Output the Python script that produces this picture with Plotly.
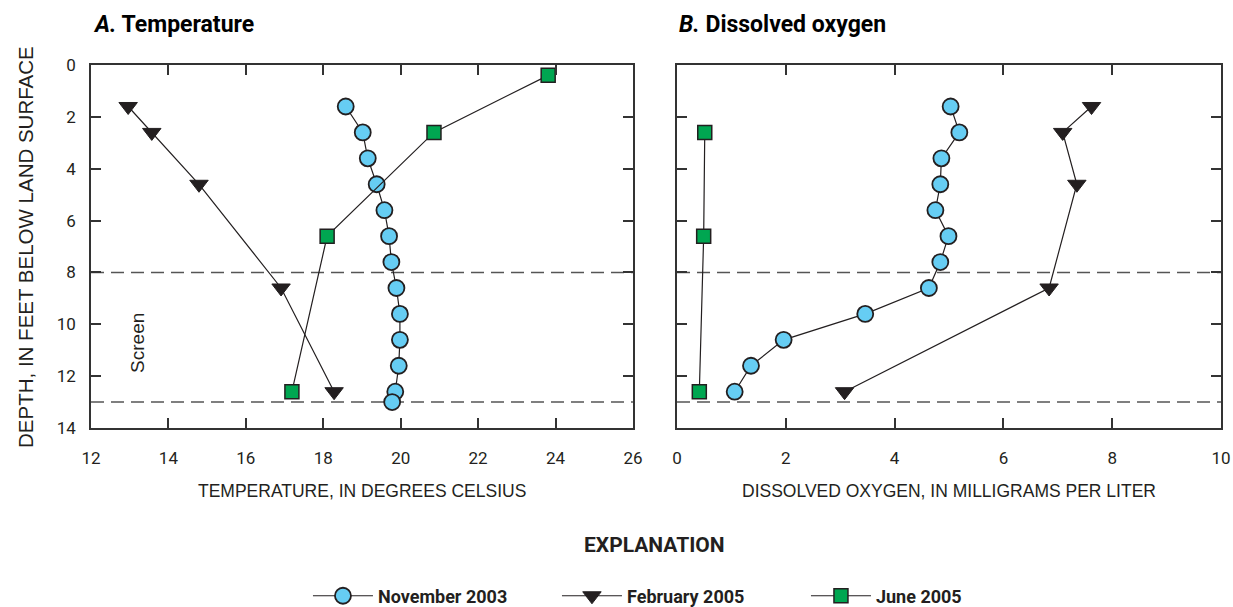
import plotly.graph_objects as go

# Depth profiles (feet below land surface)
nov2003_depth = [1.6, 2.6, 3.6, 4.6, 5.6, 6.6, 7.6, 8.6, 9.6, 10.6, 11.6, 12.6, 13.0]
nov2003_temp = [18.58, 19.02, 19.15, 19.38, 19.58, 19.70, 19.76, 19.89, 19.98, 19.98, 19.95, 19.86, 19.78]
nov2003_do_depth = [1.6, 2.6, 3.6, 4.6, 5.6, 6.6, 7.6, 8.6, 9.6, 10.6, 11.6, 12.6]
nov2003_do = [5.03, 5.19, 4.86, 4.84, 4.75, 4.99, 4.84, 4.63, 3.46, 1.96, 1.36, 1.06]

feb2005_depth = [1.6, 2.6, 4.6, 8.6, 12.6]
feb2005_temp = [12.96, 13.57, 14.79, 16.91, 18.28]
feb2005_do = [7.62, 7.09, 7.35, 6.84, 3.08]

jun2005_temp_depth = [0.4, 2.6, 6.6, 12.6]
jun2005_temp = [23.81, 20.86, 18.10, 17.19]
jun2005_do_depth = [2.6, 6.6, 12.6]
jun2005_do = [0.51, 0.49, 0.41]

screen_interval = [8, 13]

temp_ticks = [12, 14, 16, 18, 20, 22, 24, 26]
do_ticks = [0, 2, 4, 6, 8, 10]
depth_ticks = [0, 2, 4, 6, 8, 10, 12, 14]

DARK = "#231F20"
BLUE = "#66CDF3"
GREEN = "#00A651"
NARROW = "Liberation Sans Narrow, Roboto, Arial, sans-serif"
WIDE = "Liberation Sans, Arial, sans-serif"
TICK_FONT = dict(family=NARROW, size=17, color=DARK)
LABEL_FONT = dict(family=WIDE, size=17.5, color=DARK)

series = [
    dict(name="November 2003", symbol="circle", size=16, fill=BLUE, lw=1.8,
         left=(nov2003_temp, nov2003_depth), right=(nov2003_do, nov2003_do_depth)),
    dict(name="February 2005", symbol="triangle-down", size=16, fill=DARK, lw=1,
         left=(feb2005_temp, feb2005_depth), right=(feb2005_do, feb2005_depth)),
    dict(name="June 2005", symbol="square", size=14, fill=GREEN, lw=1.5,
         left=(jun2005_temp, jun2005_temp_depth), right=(jun2005_do, jun2005_do_depth)),
]

fig = go.Figure()
for s in series:
    marker = dict(symbol=s["symbol"], size=s["size"], color=s["fill"],
                  line=dict(color=DARK, width=s["lw"]))
    line = dict(color=DARK, width=1.2)
    fig.add_trace(go.Scatter(x=s["left"][0], y=s["left"][1], mode="lines+markers",
                             name=s["name"], marker=marker, line=line,
                             xaxis="x", yaxis="y", showlegend=True, cliponaxis=False))
    fig.add_trace(go.Scatter(x=s["right"][0], y=s["right"][1], mode="lines+markers",
                             name=s["name"], marker=marker, line=line,
                             xaxis="x2", yaxis="y2", showlegend=False, cliponaxis=False))

# Screened interval boundaries
for xr, yr in (("x domain", "y"), ("x2 domain", "y2")):
    for d in screen_interval:
        fig.add_shape(type="line", xref=xr, yref=yr, x0=0, x1=1, y0=d, y1=d,
                      line=dict(color="#555555", width=1.4, dash="13px,7px"), layer="below")

axis_common = dict(showline=True, linecolor="#333333", linewidth=1.5, mirror="ticks",
                   ticks="inside", ticklen=10, tickwidth=1.5, tickcolor="#333333",
                   showgrid=False, zeroline=False, tickfont=TICK_FONT, automargin=False)

fig.update_layout(
    width=1233, height=607,
    margin=dict(l=91, r=12, t=65, b=179, autoexpand=False),
    plot_bgcolor="white", paper_bgcolor="white",
    xaxis=dict(domain=[0, 0.4796], range=[12, 26], tickvals=temp_ticks,
               ticklabelstandoff=14, **axis_common),
    xaxis2=dict(domain=[0.5186, 1], range=[0, 10], tickvals=do_ticks,
                ticklabelstandoff=14, **axis_common),
    yaxis=dict(range=[14, 0], tickvals=depth_ticks, ticklabelstandoff=10, **axis_common),
    yaxis2=dict(range=[14, 0], tickvals=depth_ticks, anchor="x2", showticklabels=False,
                **axis_common),
    showlegend=True,
    legend=dict(orientation="h", x=0.192, xanchor="left", y=-0.463, yanchor="middle",
                font=dict(family=NARROW, size=18, color=DARK, weight="bold"),
                itemwidth=60, entrywidth=174, traceorder="normal"),
)

title_font = dict(family=NARROW, size=23, color="black", weight="bold")
fig.add_annotation(text="<b><i>A.</i> Temperature</b>", xref="paper", yref="paper",
                   x=0.0, y=1.112, xanchor="left", yanchor="middle", showarrow=False,
                   font=title_font)
fig.add_annotation(text="<b><i>B.</i> Dissolved oxygen</b>", xref="paper", yref="paper",
                   x=0.5186, y=1.112, xanchor="left", yanchor="middle", showarrow=False,
                   font=title_font)
fig.add_annotation(text="DEPTH, IN FEET BELOW LAND SURFACE", xref="paper", yref="paper",
                   x=-0.058, y=0.5, xanchor="center", yanchor="middle", textangle=-90,
                   showarrow=False, font=dict(family=WIDE, size=20.5, color=DARK))
fig.add_annotation(text="TEMPERATURE, IN DEGREES CELSIUS", xref="x domain", yref="paper",
                   x=0.5, y=-0.1736, xanchor="center", yanchor="middle", showarrow=False,
                   font=LABEL_FONT)
fig.add_annotation(text="DISSOLVED OXYGEN, IN MILLIGRAMS PER LITER", xref="x2 domain",
                   yref="paper", x=0.5, y=-0.1736, xanchor="center", yanchor="middle",
                   showarrow=False, font=LABEL_FONT)
fig.add_annotation(text="Screen", xref="x", yref="y", x=13.2, y=10.7, textangle=-90,
                   showarrow=False, xanchor="center", yanchor="middle",
                   font=dict(family=WIDE, size=19, color=DARK))
fig.add_annotation(text="<b>EXPLANATION</b>", xref="paper", yref="paper", x=0.4991,
                   y=-0.3223, xanchor="center", yanchor="middle", showarrow=False,
                   font=dict(family=NARROW, size=21, color=DARK))

fig.write_html("out.html")
